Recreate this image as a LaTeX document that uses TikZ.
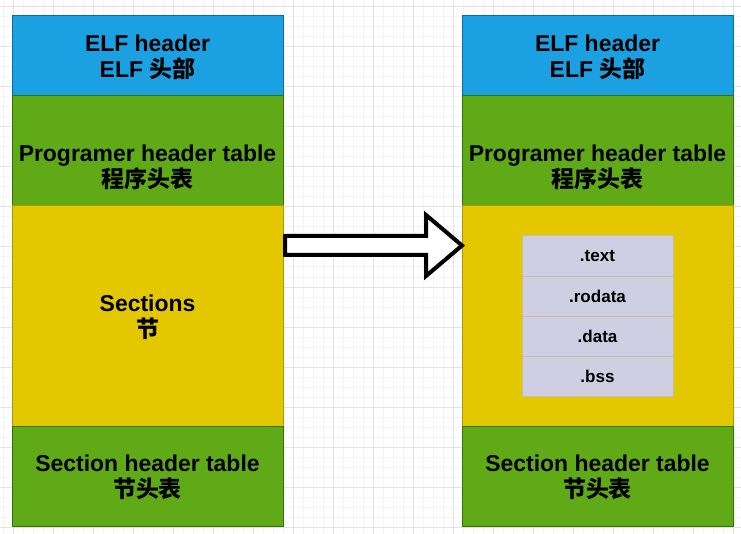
\documentclass[tikz,border=0pt]{standalone}
\usepackage{fontspec}
\setmainfont{Liberation Sans}
\newfontfamily\cjk{Noto Sans CJK SC}
\definecolor{gridminor}{HTML}{F4F4F4}
\definecolor{gridmajor}{HTML}{E3E3E3}
\definecolor{elfblue}{HTML}{1BA1E2}
\definecolor{elfbluestroke}{HTML}{006EAF}
\definecolor{elfgreen}{HTML}{60A917}
\definecolor{elfgreenstroke}{HTML}{2D7600}
\definecolor{elfyellow}{HTML}{E3C800}
\definecolor{elfyellowstroke}{HTML}{B09500}
\definecolor{secfill}{HTML}{D0CEE2}
\definecolor{secstroke}{HTML}{C8BE9E}
\begin{document}
\begin{tikzpicture}[x=0.75pt,y=-0.75pt,
  blk/.style={draw, line width=0.75pt, inner sep=0pt, outer sep=0pt},
  bluebox/.style={blk, fill=elfblue, draw=elfbluestroke},
  greenbox/.style={blk, fill=elfgreen, draw=elfgreenstroke},
  yellowbox/.style={blk, fill=elfyellow, draw=elfyellowstroke},
  seclbl/.style={blk, fill=secfill, draw=secstroke, minimum width=113.25pt, minimum height=30pt, font=\bfseries\fontsize{12.8}{14}\selectfont},
  lbl/.style={align=center, font=\bfseries\fontsize{17.2}{19.5}\selectfont, inner sep=0pt},
  bigarrow/.style={draw=black, fill=white, line width=3pt, line join=miter}]
\useasboundingbox (0,0) rectangle (741,534);
\fill[white] (0,0) rectangle (741,534);
% grid
\foreach \x in {3,13,...,741} \draw[gridminor, line width=0.75pt] (\x,0) -- (\x,534);
\foreach \y in {7,17,...,534} \draw[gridminor, line width=0.75pt] (0,\y) -- (741,\y);
\foreach \x in {13,53,...,741} \draw[gridmajor, line width=0.75pt] (\x,0) -- (\x,534);
\foreach \y in {7,47,...,534} \draw[gridmajor, line width=0.75pt] (0,\y) -- (741,\y);

% left column
\draw[bluebox] (12,16) rectangle (283,96);
\draw[greenbox] (12,96) rectangle (283,206);
\draw[yellowbox] (12,206) rectangle (283,426);
\draw[greenbox] (12,426) rectangle (283,526);
\node[lbl] (lelf) at (147.5,57) {ELF header\\ELF {\cjk 头部}};
\node[lbl] (lph) at (147.5,167) {Programer header table\\{\cjk 程序头表}};
\node[lbl] (lsec) at (147.5,317) {Sections\\{\cjk 节}};
\node[lbl] (lsh) at (147.5,477) {Section header table\\{\cjk 节头表}};

% right column
\draw[bluebox] (462,16) rectangle (733,96);
\draw[greenbox] (462,96) rectangle (733,206);
\draw[yellowbox] (462,206) rectangle (733,426);
\draw[greenbox] (462,426) rectangle (733,526);
\node[lbl] (relf) at (597.5,57) {ELF header\\ELF {\cjk 头部}};
\node[lbl] (rph) at (597.5,167) {Programer header table\\{\cjk 程序头表}};
\node[lbl] (rsh) at (597.5,477) {Section header table\\{\cjk 节头表}};

% sections table
\node[seclbl] (text) at (597.5,256) {.text};
\node[seclbl] (rodata) at (597.5,296) {.rodata};
\node[seclbl] (data) at (597.5,336) {.data};
\node[seclbl] (bss) at (597.5,376) {.bss};

% big arrow
\draw[bigarrow] (285,236) -- (426,236) -- (426,215) -- (462,245.5) -- (426,276) -- (426,255) -- (285,255) -- cycle;
\end{tikzpicture}
\end{document}
